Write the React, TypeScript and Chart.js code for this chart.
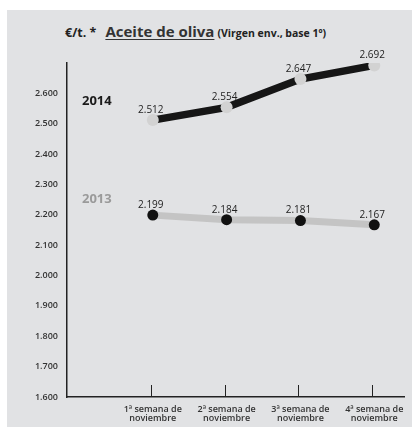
import React, { useEffect, useRef } from "react";
import { Chart, registerables } from "chart.js";

Chart.register(...registerables);

const weeks = [1, 2, 3, 4];
const weekLabels = [
  ["1ª semana de", "noviembre"],
  ["2ª semana de", "noviembre"],
  ["3ª semana de", "noviembre"],
  ["4ª semana de", "noviembre"],
];
const values2014 = [2512, 2554, 2647, 2692];
const values2013 = [2199, 2184, 2181, 2167];
const seriesNames = ["2014", "2013"];
const yMin = 1600;
const yMax = 2700;

const FONT = "'Open Sans', 'Noto Sans', sans-serif";

function fmt(v: number): string {
  const th = Math.floor(v / 1000);
  const rest = String(Math.round(v) % 1000).padStart(3, "0");
  return th + "." + rest;
}

const annotations = {
  id: "annotations",
  afterDatasetsDraw(chart: any) {
    const ctx = chart.ctx;
    const area = chart.chartArea;
    const x = chart.scales.x;
    const y = chart.scales.y;
    ctx.save();
    // inner tick marks on x axis
    ctx.strokeStyle = "#222";
    ctx.lineWidth = 1;
    weeks.forEach((w) => {
      const px = Math.round(x.getPixelForValue(w)) - 1.5;
      ctx.beginPath();
      ctx.moveTo(px, area.bottom);
      ctx.lineTo(px, area.bottom - 12);
      ctx.stroke();
    });
    // data labels
    ctx.font = `500 10px ${FONT}`;
    ctx.fillStyle = "#222";
    ctx.textAlign = "center";
    ctx.textBaseline = "middle";
    chart.data.datasets.forEach((ds: any, i: number) => {
      const meta = chart.getDatasetMeta(i);
      meta.data.forEach((pt: any, j: number) => {
        ctx.fillText(fmt(ds.data[j].y), pt.x - 2, pt.y - 10);
      });
    });
    // series name labels
    ctx.font = `bold 13px ${FONT}`;
    ctx.textAlign = "left";
    ctx.fillStyle = "#1a1a1a";
    ctx.fillText(seriesNames[0], area.left + 15, y.getPixelForValue(2575));
    ctx.fillStyle = "#9a9a9a";
    ctx.fillText(seriesNames[1], area.left + 15, y.getPixelForValue(2252));
    ctx.restore();
  },
};

export default function App() {
  const ref = useRef<HTMLCanvasElement | null>(null);

  useEffect(() => {
    if (!ref.current) return;
    const chart = new Chart(ref.current, {
      type: "line",
      data: {
        datasets: [
          {
            label: seriesNames[0],
            data: weeks.map((w, i) => ({ x: w, y: values2014[i] })),
            borderColor: "#161616",
            borderWidth: 7.5,
            pointRadius: 6,
            pointBackgroundColor: "#d2d2d2",
            pointBorderWidth: 0,
            tension: 0,
          },
          {
            label: seriesNames[1],
            data: weeks.map((w, i) => ({ x: w, y: values2013[i] })),
            borderColor: "#c4c4c4",
            borderWidth: 7,
            pointRadius: 5.5,
            pointBackgroundColor: "#111",
            pointBorderWidth: 0,
            tension: 0,
          },
        ],
      },
      options: {
        animation: false,
        responsive: false,
        maintainAspectRatio: false,
        layout: { padding: { top: 53, right: 7, left: 0, bottom: 0 } },
        plugins: {
          legend: { display: false },
          tooltip: { enabled: false },
        },
        scales: {
          x: {
            type: "linear",
            min: -0.162,
            max: 4.405,
            afterBuildTicks: (s: any) => {
              s.ticks = weeks.map((w) => ({ value: w }));
            },
            afterFit: (s: any) => {
              s.height = 30;
            },
            grid: { display: false, drawTicks: false },
            border: { display: true, color: "#222", width: 1.5 },
            ticks: {
              autoSkip: false,
              maxRotation: 0,
              padding: 8,
              color: "#333",
              font: { family: FONT, size: 9, weight: 600, lineHeight: 1.0 },
              callback: (v: any) => {
                const idx = weeks.indexOf(Number(v));
                return idx >= 0 ? weekLabels[idx] : "";
              },
            },
          },
          y: {
            min: yMin,
            max: yMax,
            afterFit: (s: any) => {
              s.width = 60;
            },
            grid: { display: false, drawTicks: false },
            border: { display: true, color: "#222", width: 1.5 },
            ticks: {
              stepSize: 100,
              padding: 9,
              color: "#333",
              font: { family: FONT, size: 9, weight: 600 },
              callback: (v: any) => (Number(v) >= yMax ? "" : fmt(Number(v))),
            },
          },
        },
      },
      plugins: [annotations],
    });
    return () => chart.destroy();
  }, []);

  return (
    <div
      style={{
        position: "absolute",
        left: 7,
        top: 10,
        width: 405,
        height: 417,
        background: "#e1e2e4",
        fontFamily: FONT,
      }}
    >
      <div
        style={{
          position: "absolute",
          left: 58,
          top: 11,
          whiteSpace: "nowrap",
          color: "#222",
          display: "flex",
          alignItems: "baseline",
        }}
      >
        <span style={{ fontWeight: 700, fontSize: 12.5 }}>€/t. *</span>
        <span
          style={{
            fontWeight: 700,
            fontSize: 15,
            marginLeft: 9,
            textDecoration: "underline",
            textUnderlineOffset: 2,
            color: "#333",
          }}
        >
          Aceite de oliva
        </span>
        <span style={{ fontWeight: 700, fontSize: 10.5, marginLeft: 3, color: "#222" }}>
          (Virgen env., base 1º)
        </span>
      </div>
      <canvas
        ref={ref}
        width={405}
        height={417}
        style={{ position: "absolute", left: 0, top: 0, width: 405, height: 417 }}
      />
    </div>
  );
}
